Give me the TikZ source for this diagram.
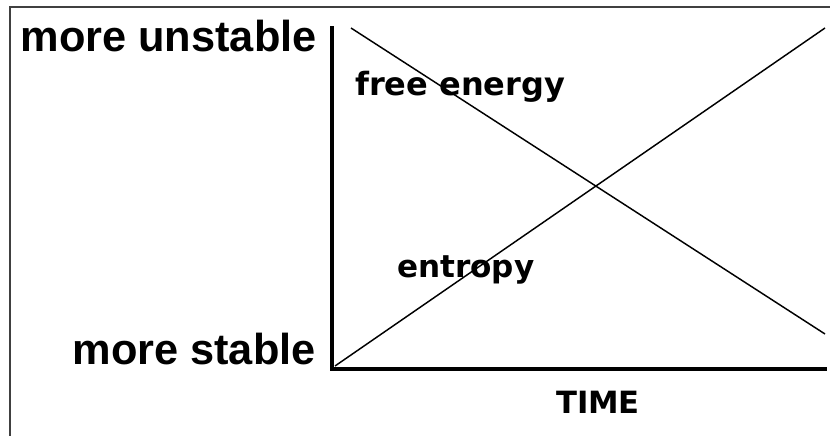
\documentclass[tikz,border=0pt]{standalone}
\usepackage{fontspec}
\setmainfont{Liberation Sans}
\newfontfamily\curvefont{DejaVu Sans}
\usepackage{tikz}
\usetikzlibrary{positioning}

\begin{document}
\begin{tikzpicture}[
    x=0.75pt, y=-0.75pt,
    axis/.style={line width=2.4pt, line cap=rect},
    curve/.style={line width=1.1pt},
    side/.style={inner sep=0pt, font=\bfseries\fontsize{32.5}{38}\selectfont},
    tag/.style={inner sep=0pt, font=\curvefont\bfseries\fontsize{24}{28}\selectfont}
]
    \useasboundingbox (0,0) rectangle (830,435);
    % --- frame (only left and top edges show) ---
    \draw[black!75, line width=1.3pt] (10,436) -- (10,7) -- (831,7);

    % --- axes ---
    \coordinate (O) at (332,369);
    \coordinate (Ytop) at (332,28);
    \coordinate (Xend) at (825,369);
    \draw[axis] (Ytop) -- (O) -- (Xend);

    % --- curves ---
    \coordinate (FEstart) at (351,28);
    \coordinate (FEend) at (825,334);
    \coordinate (ENstart) at (335,366);
    \coordinate (ENend) at (825,28);
    \draw[curve] (FEstart) -- (FEend);
    \draw[curve] (ENstart) -- (ENend);

    % --- labels ---
    \node[side, anchor=base east] (unstable) at (317,51) {more unstable};
    \node[side, anchor=base east] (stable) at (316,364) {more stable};
    \node[tag, anchor=base west] (free) at (355,95) {free energy};
    \node[tag, anchor=base west, font=\curvefont\bfseries\fontsize{23.3}{28}\selectfont] (entropy) at (397,277) {entropy};
    \node[tag, anchor=base, font=\curvefont\bfseries\fontsize{23}{28}\selectfont] (time) at (598,413) {TIME};
\end{tikzpicture}
\end{document}
